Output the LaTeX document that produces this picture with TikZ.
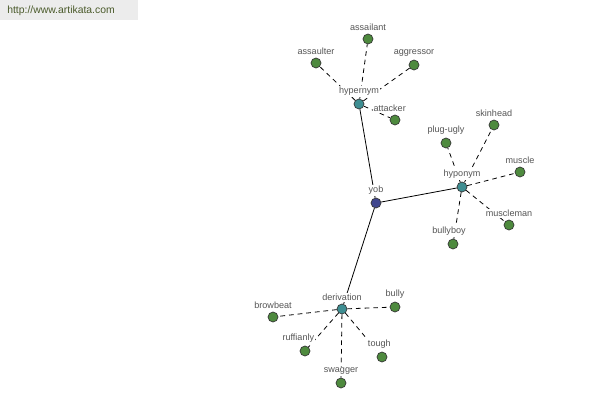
\documentclass[tikz,border=0pt]{standalone}
\usepackage{fontspec}
\setmainfont{Liberation Sans}
\usepackage{xcolor}
\usetikzlibrary{backgrounds}

\definecolor{leafgreen}{RGB}{78,138,62}
\definecolor{relteal}{RGB}{62,142,146}
\definecolor{wordnavy}{RGB}{64,70,142}
\definecolor{lblgray}{RGB}{85,85,85}
\definecolor{urlgray}{RGB}{236,236,236}
\definecolor{urltext}{RGB}{74,90,42}

\tikzset{
    dot/.style={circle, draw=black!80, line width=0.5pt, minimum size=7.5pt, inner sep=0pt},
    leaf/.style={dot, fill=leafgreen},
    rel/.style={dot, fill=relteal},
    word/.style={dot, fill=wordnavy},
    lbl/.style={font=\fontsize{6.8}{8}\selectfont, text=lblgray, fill=white, inner sep=0.6pt},
    every label/.style={lbl},
    label distance=1.4pt,
    solidedge/.style={line width=0.6pt, draw=black},
    dashedge/.style={line width=0.6pt, draw=black, dash pattern=on 3.5pt off 3pt},
}

\begin{document}
\begin{tikzpicture}[x=0.75pt,y=0.75pt,yscale=-1,xscale=1]
    \useasboundingbox (0,0) rectangle (600,400);
    % site banner
    \fill [urlgray] (0,0) rectangle (138,20);
    \node [anchor=west, inner sep=0pt, font=\fontsize{7.8}{9}\selectfont, text=urltext] (url) at (7,11) {http://www.artikata.com};

    % centre word and relation nodes
    \node [word, label=above:yob] (yob) at (376,203) {};
    \node [rel, label=above:hypernym] (hypernym) at (359,104) {};
    \node [rel, label=above:hyponym] (hyponym) at (462,187) {};
    \node [rel, label=above:derivation] (derivation) at (342,309) {};

    % hypernym leaves
    \node [leaf, label=above:assaulter] (assaulter) at (316,63) {};
    \node [leaf, label=above:assailant] (assailant) at (368,39) {};
    \node [leaf, label=above:aggressor] (aggressor) at (414,65) {};
    \node [leaf, label={[xshift=-4pt]above:attacker}] (attacker) at (395,120) {};

    % hyponym leaves
    \node [leaf, label=above:plug-ugly] (plugugly) at (446,143) {};
    \node [leaf, label=above:skinhead] (skinhead) at (494,125) {};
    \node [leaf, label=above:muscle] (muscle) at (520,172) {};
    \node [leaf, label=above:muscleman] (muscleman) at (509,225) {};
    \node [leaf, label={[xshift=-3pt]above:bullyboy}] (bullyboy) at (453,244) {};

    % derivation leaves
    \node [leaf, label=above:browbeat] (browbeat) at (273,317) {};
    \node [leaf, label=above:bully] (bully) at (395,307) {};
    \node [leaf, label={[xshift=-5pt]above:ruffianly}] (ruffianly) at (305,351) {};
    \node [leaf, label={[xshift=-2pt]above:tough}] (tough) at (382,357) {};
    \node [leaf, label=above:swagger] (swagger) at (341,383) {};

    \begin{pgfonlayer}{background}
        \draw [solidedge] (yob) -- (hypernym);
        \draw [solidedge] (yob) -- (hyponym);
        \draw [solidedge] (yob) -- (derivation);
        \foreach \leafname in {assaulter,assailant,aggressor,attacker}
            \draw [dashedge] (hypernym) -- (\leafname);
        \foreach \leafname in {plugugly,skinhead,muscle,muscleman,bullyboy}
            \draw [dashedge] (hyponym) -- (\leafname);
        \foreach \leafname in {browbeat,bully,ruffianly,tough,swagger}
            \draw [dashedge] (derivation) -- (\leafname);
    \end{pgfonlayer}
\end{tikzpicture}
\end{document}
